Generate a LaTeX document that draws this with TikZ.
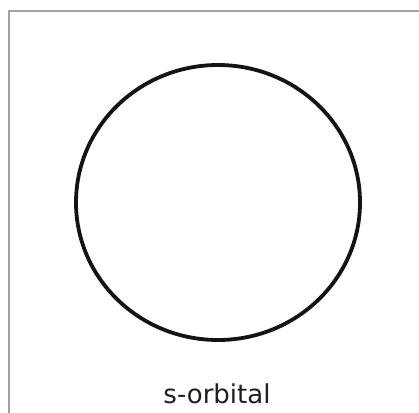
\documentclass[tikz,border=0pt]{standalone}
\usepackage{fontspec}
\newfontfamily\labelfont{DejaVu Sans}
\begin{document}
\begin{tikzpicture}[x=1pt,y=-1pt,
  frame/.style={draw=black!37, line width=2.4pt},
  orbital/.style={draw=black!92, line width=3.8pt},
  caption/.style={font=\labelfont\fontsize{26}{30}\selectfont, text=black!88, inner sep=0pt, anchor=base}]
\useasboundingbox (0,0) rectangle (419,412);
\fill[white] (0,0) rectangle (419,412);
\draw[frame] (425,11) -- (9,11) -- (9,420);
\node[draw=none, minimum width=0pt, inner sep=0pt] (c) at (218,202.5) {};
\draw[orbital] (c) ellipse [x radius=142, y radius=137.5];
\node[caption] (lbl) at (217,403) {s-orbital};
\end{tikzpicture}
\end{document}
